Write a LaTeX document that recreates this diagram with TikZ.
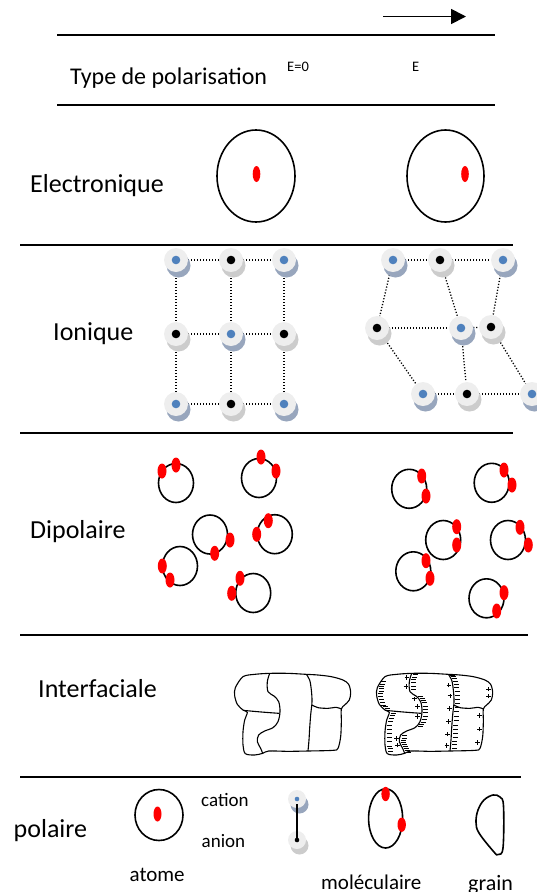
\documentclass[tikz,border=0pt]{standalone}
\usepackage{fontspec}
\setmainfont{Carlito}
\usepackage{tikz}
\usetikzlibrary{arrows.meta, shadows, backgrounds, calc}

\definecolor{ionblue}{HTML}{4F81BD}
\definecolor{ionface}{HTML}{EEEEEE}
\definecolor{cationside}{HTML}{98A6BD}
\definecolor{anionside}{HTML}{CCCCCC}

\tikzset{iondot/.store in=\iondot, iondot=4.3pt}

% grain boundaries, drawn in a 3:1 local frame
\newcommand\grainrim{plot[smooth cycle, tension=0.5] coordinates {
  (45,35) (80,28) (125,25) (180,25) (235,28) (270,30) (310,35) (345,45)
  (362,58) (368,82) (364,105) (350,120) (340,132) (340,170) (338,215)
  (330,250) (315,256) (240,258) (180,259) (122,258) (104,265) (80,270)
  (52,266) (45,240) (45,200) (50,165) (58,142) (45,135) (28,118) (20,92)
  (22,68)}}
\newcommand\scurve{plot[smooth, tension=0.55] coordinates {
  (125,25) (118,50) (120,80) (138,93) (152,110) (156,140) (150,170)
  (135,188) (110,198) (92,210) (88,230) (98,250) (104,265)}}
\newcommand\crossline{plot[smooth] coordinates {(45,136) (100,141) (153,145)}}
\newcommand\midline{plot[smooth, tension=0.55] coordinates {
  (235,28) (245,45) (250,75) (252,110) (248,150) (245,190) (243,225) (240,258)}}
\newcommand\capline{plot[smooth] coordinates {(252,120) (270,128) (300,130) (325,127) (340,132)}}

% boundary pieces carrying charges (same frame)
\newcommand\negsegs{125/25/118/50, 118/50/120/80, 138/93/152/110,
  152/110/156/140, 156/140/150/170, 150/170/135/188, 92/210/88/230,
  88/230/98/250, 98/250/104/265,
  235/28/245/45, 245/45/250/75, 250/75/252/110, 252/110/248/150,
  248/150/245/190, 245/190/243/225, 243/225/240/258,
  30/48/22/68, 22/68/20/92, 20/92/28/118, 28/118/45/135,
  58/142/50/165, 50/165/45/200, 45/200/45/240, 45/240/52/266}
\newcommand\possegs{125/25/118/50, 118/50/120/80, 138/93/152/110,
  152/110/156/140, 156/140/150/170, 92/210/88/230, 88/230/98/250,
  245/45/250/75, 250/75/252/110, 252/110/248/150, 248/150/245/190,
  245/190/243/225, 243/225/240/258,
  364/62/368/82, 368/82/364/105, 340/132/340/170, 340/170/338/215,
  338/215/330/250}

\begin{document}
\begin{tikzpicture}[
    x=1pt, y=-1pt,
    rule/.style={line width=1.9pt},
    fieldarrow/.style={line width=1.8pt, -{Triangle[length=15pt, width=15pt]}},
    headtext/.style={anchor=base west, inner sep=0pt, font=\fontsize{24}{28}\selectfont},
    rowtitle/.style={anchor=base west, inner sep=0pt, font=\fontsize{26}{30}\selectfont},
    smalltext/.style={anchor=base west, inner sep=0pt, font=\fontsize{21}{25}\selectfont},
    tinytext/.style={anchor=base west, inner sep=0pt, font=\fontsize{14.5}{17}\selectfont},
    ring/.style={line width=1.6pt},
    charge/.style={fill=red},
    bond/.style={line width=1.3pt, dash pattern=on 1.2pt off 1.8pt},
    ionbase/.style={circle, inner sep=0pt, minimum size=24pt, fill=ionface},
    cationnode/.style={ionbase,
      general shadow={fill=cationside, shadow xshift=2.5pt, shadow yshift=-5.5pt},
      path picture={\fill[ionblue] (path picture bounding box.center) circle (\iondot);}},
    anionnode/.style={ionbase,
      general shadow={fill=anionside, shadow xshift=2.5pt, shadow yshift=-5.5pt},
      path picture={\fill[black] (path picture bounding box.center) circle (\iondot);}},
    grainframe/.style={x=0.33333pt, y=-0.33333pt},
    grainline/.style={line width=1.1pt, line join=round},
    chargetick/.style={line width=0.7pt}
]
\useasboundingbox (0,0) rectangle (536,892);

% header
\coordinate (etail) at (383,16.5);
\coordinate (ehead) at (466,16.5);
\draw[fieldarrow] (etail) -- (ehead);
\draw[rule] (57,35) -- (495,35);
\node[headtext] (title) at (70,84) {Type de polarisation};
\node[tinytext] (ezero) at (287,71) {E=0};
\node[tinytext] (efield) at (412,71) {E};
\draw[rule] (57,105) -- (495,105);

% electronic
\node[rowtitle] (elec) at (30,192.5) {Electronique};
\draw[ring] (256,176) ellipse (39 and 46);
\fill[charge] (256.5,174) ellipse (3.8 and 8);
\draw[ring] (445.5,176) ellipse (38.5 and 46);
\fill[charge] (465,174) ellipse (3.8 and 8);
\draw[rule] (20,245) -- (513,245);

% ionic: square lattice, then the strained one
\node[rowtitle] (ionic) at (53,340) {Ionique};
\node[cationnode] (l11) at (176,260) {};
\node[anionnode]  (l12) at (231,260) {};
\node[cationnode] (l13) at (284,260) {};
\node[anionnode]  (l21) at (176,334) {};
\node[cationnode] (l22) at (231,334) {};
\node[anionnode]  (l23) at (284,334) {};
\node[cationnode] (l31) at (176,404) {};
\node[anionnode]  (l32) at (231,404) {};
\node[cationnode] (l33) at (284,404) {};

\node[cationnode] (r1) at (393,260) {};
\node[anionnode]  (r2) at (440,260) {};
\node[cationnode] (r3) at (503,260) {};
\node[anionnode]  (r4) at (377,328) {};
\node[cationnode] (r5) at (461,328) {};
\node[anionnode]  (r6) at (491,327) {};
\node[cationnode] (r7) at (423,394) {};
\node[anionnode]  (r8) at (467,394) {};
\node[cationnode] (r9) at (532,394) {};

\begin{scope}[on background layer]
  \foreach \a/\b in {l11/l12, l12/l13, l21/l22, l22/l23, l31/l32, l32/l33,
                     l11/l21, l21/l31, l12/l22, l22/l32, l13/l23, l23/l33,
                     r1/r2, r2/r3, r4/r5, r5/r6, r7/r8, r8/r9,
                     r1/r4, r2/r5, r3/r6, r4/r7, r5/r8, r6/r9}
    \draw[bond] (\a) -- (\b);
\end{scope}
\draw[rule] (20,433) -- (513,433);

% dipolar: rings with their two charges
\node[rowtitle] (dipol) at (30,538) {Dipolaire};
\foreach \cx/\cy/\ax/\ay/\bx/\by in {
    176/483/162/471/176/465, 259/478/261/457/276/471,
    210/534.5/230/540/214.7/553.3, 274.8/534.2/268.3/520.7/256.7/534.3,
    180/566/162.3/566/170/580, 253.2/593/240/578.3/231.7/593.3,
    409.2/488.8/421.7/476/426/496, 491.7/482.8/504/470/512/485,
    443.2/540/456.7/526.7/456.7/545, 508/540/520/527.3/528.3/545,
    413.3/571.3/426/560.7/430/578.3, 486.5/598.3/504/592.7/496.7/611} {
  \draw[ring] (\cx,\cy) ellipse (17.5 and 19.5);
  \fill[charge] (\ax,\ay) ellipse (4.5 and 7.5);
  \fill[charge] (\bx,\by) ellipse (4.5 and 7.5);
}
\draw[rule] (20,635) -- (528,635);

% interfacial: grains, then grains with boundary charges
\node[rowtitle] (interf) at (38,697) {Interfaciale};
\begin{scope}[shift={(228,665)}, grainframe]
  \draw[grainline] \grainrim;
  \draw[grainline] \scurve \crossline \midline \capline;
\end{scope}
\begin{scope}[shift={(370,665)}, grainframe]
  \draw[grainline] \grainrim;
  \draw[grainline] \scurve \crossline \midline \capline;
  \foreach \ax/\ay/\bx/\by in \negsegs
    \foreach \t in {0.1,0.43,0.76}
      \draw[chargetick] ($(\ax,\ay)!\t!(\bx,\by)$) ++(1.5pt,0pt) -- ++(5pt,0pt);
  \foreach \ax/\ay/\bx/\by in \possegs
    \draw[chargetick] ($(\ax,\ay)!0.5!(\bx,\by)$) ++(-6pt,0pt) -- ++(4.5pt,0pt)
      ++(-2.25pt,-2.25pt) -- ++(0pt,4.5pt);
\end{scope}
\draw[rule] (20,777) -- (521,777);

% polar entities
\node[rowtitle] (polar) at (13.5,837) {polaire};
\draw[ring] (159,815) ellipse (24 and 25.5);
\fill[charge] (157.5,814) ellipse (4 and 7.5);
\node[smalltext] (atom) at (129.5,881) {atome};
\node[smalltext, font=\fontsize{19}{22}\selectfont] (cat) at (201,806.5) {cation};
\node[smalltext, font=\fontsize{19}{22}\selectfont] (ani) at (201.5,847) {anion};
\node[cationnode, minimum size=18pt, iondot=2.3pt] (pcat) at (297,799) {};
\node[anionnode, minimum size=18pt, iondot=2.3pt] (pan) at (297,840) {};
\draw[line width=1.6pt] ([yshift=-5pt]pcat.center) -- (pan.center);
\draw[ring] (385.6,818.4) ellipse (17 and 29.6);
\fill[charge] (385.6,794) ellipse (4.2 and 7.2);
\fill[charge] (401.7,824.7) ellipse (4.2 and 7.2);
\draw[ring] plot[smooth cycle, tension=0.6] coordinates {
  (493,795) (500,797) (503.5,806) (503,848) (498,854.5) (494,852)
  (479,833) (476,822) (478,810) (484,800)};
\node[smalltext] (molec) at (321,889) {moléculaire};
\node[smalltext, font=\fontsize{22}{26}\selectfont] (grain) at (468,890) {grain};
\end{tikzpicture}
\end{document}
